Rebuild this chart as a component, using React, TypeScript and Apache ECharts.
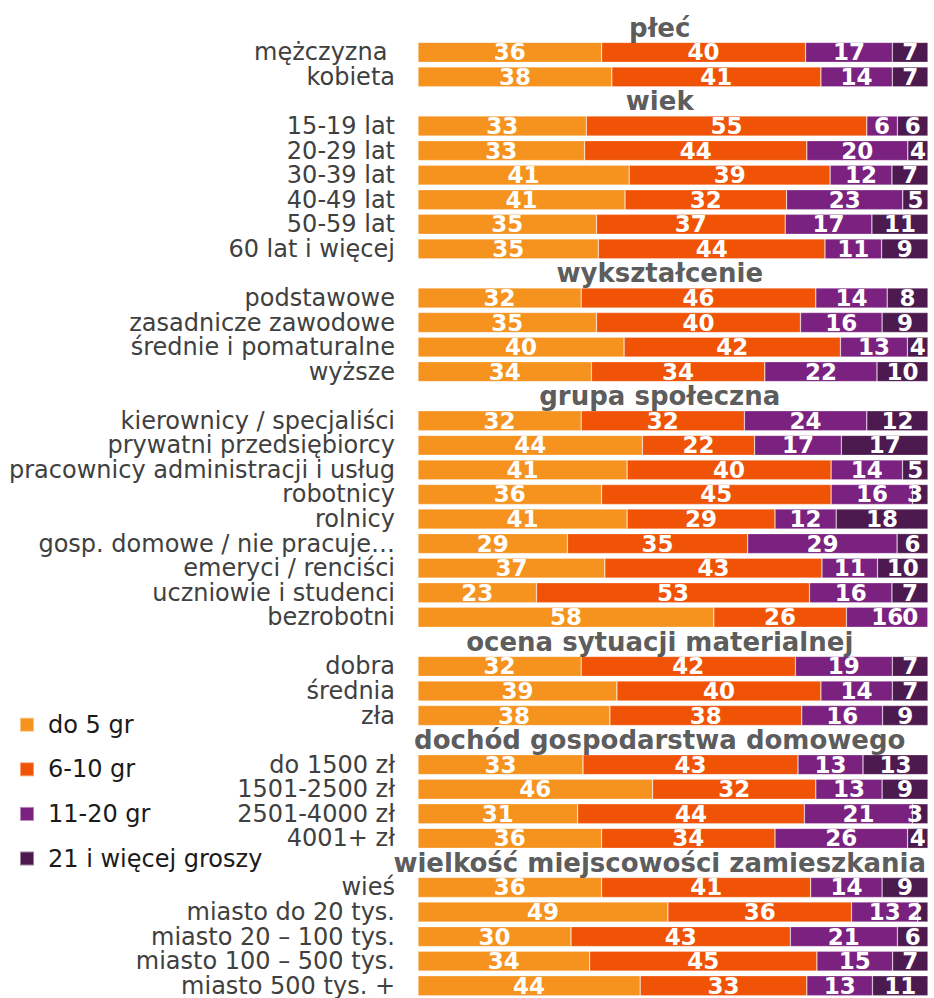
import React, { useEffect, useRef } from "react";
import * as echarts from "echarts";

const headers = [
  "płeć",
  "wiek",
  "wykształcenie",
  "grupa społeczna",
  "ocena sytuacji materialnej",
  "dochód gospodarstwa domowego",
  "wielkość miejscowości zamieszkania",
];
const groupSizes = [2, 6, 4, 9, 3, 4, 5];

const categories = [
  "mężczyzna ", "kobieta",
  "15-19 lat", "20-29 lat", "30-39 lat", "40-49 lat", "50-59 lat", "60 lat i więcej",
  "podstawowe", "zasadnicze zawodowe", "średnie i pomaturalne", "wyższe",
  "kierownicy / specjaliści", "prywatni przedsiębiorcy", "pracownicy administracji i usług",
  "robotnicy", "rolnicy", "gosp. domowe / nie pracuje…", "emeryci / renciści",
  "uczniowie i studenci", "bezrobotni",
  "dobra", "średnia", "zła",
  "do 1500 zł", "1501-2500 zł", "2501-4000 zł", "4001+ zł",
  "wieś", "miasto do 20 tys.", "miasto 20 – 100 tys.", "miasto 100 – 500 tys.", "miasto 500 tys. +",
];

const seriesNames = ["do 5 gr", "6-10 gr", "11-20 gr", "21 i więcej groszy"];

const do5 = [36, 38, 33, 33, 41, 41, 35, 35, 32, 35, 40, 34, 32, 44, 41, 36, 41, 29, 37, 23, 58, 32, 39, 38, 33, 46, 31, 36, 36, 49, 30, 34, 44];
const g6to10 = [40, 41, 55, 44, 39, 32, 37, 44, 46, 40, 42, 34, 32, 22, 40, 45, 29, 35, 43, 53, 26, 42, 40, 38, 43, 32, 44, 34, 41, 36, 43, 45, 33];
const g11to20 = [17, 14, 6, 20, 12, 23, 17, 11, 14, 16, 13, 22, 24, 17, 14, 16, 12, 29, 11, 16, 16, 19, 14, 16, 13, 13, 21, 26, 14, 13, 21, 15, 13];
const g21plus = [7, 7, 6, 4, 7, 5, 11, 9, 8, 9, 4, 10, 12, 17, 5, 3, 18, 6, 10, 7, 0, 7, 7, 9, 13, 9, 3, 4, 9, 2, 6, 7, 11];

const colors = ["#F6921E", "#F05206", "#7B2180", "#4D1A50"];

const HEADER_X = 47.4;
const FONT = "DejaVu Sans";

export default function App() {
  const ref = useRef<HTMLDivElement>(null);

  useEffect(() => {
    if (!ref.current) return;
    const chart = echarts.init(ref.current, undefined, { renderer: "svg" });

    const slotLabels: string[] = [];
    const rowSlot: number[] = [];
    const headerSlot: number[] = [];
    let r = 0;
    groupSizes.forEach((n) => {
      headerSlot.push(slotLabels.length);
      slotLabels.push("");
      for (let k = 0; k < n; k++) {
        rowSlot.push(slotLabels.length);
        slotLabels.push(categories[r]);
        r++;
      }
    });

    const valueArrays = [do5, g6to10, g11to20, g21plus];
    const sums = categories.map((_, i) => valueArrays.reduce((s, a) => s + a[i], 0));

    const barSeries = valueArrays.map((arr, si) => {
      const data: any[] = slotLabels.map(() => "-");
      arr.forEach((v, i) => {
        const item: any = { value: (v / sums[i]) * 100, raw: v };
        if (si === 3 && v <= 3) {
          item.label = { position: "insideRight", offset: v === 0 ? [-5, 0] : [0, 0] };
        }
        data[rowSlot[i]] = item;
      });
      return {
        name: seriesNames[si],
        type: "bar",
        stack: "total",
        barWidth: 20,
        itemStyle: { color: colors[si], borderColor: "rgba(255,255,255,0.45)", borderWidth: 0.6 },
        label: {
          show: true,
          position: "inside",
          color: "#ffffff",
          fontFamily: FONT,
          fontWeight: "bold",
          fontSize: 23,
          formatter: (p: any) => String(p.data.raw),
        },
        data,
      };
    });

    const headerSeries = {
      type: "scatter",
      symbolSize: 1,
      itemStyle: { color: "transparent" },
      silent: true,
      label: {
        show: true,
        position: "inside",
        color: "#303030",
        fontFamily: FONT,
        fontWeight: "bold",
        fontSize: 26,
        formatter: (p: any) => p.data.name,
      },
      data: headers.map((h, i) => ({ name: h, value: [HEADER_X, headerSlot[i]] })),
      z: 5,
    };

    chart.setOption({
      animation: false,
      grid: { left: 418, right: 6, top: 15.5, bottom: 0, containLabel: false },
      xAxis: { type: "value", min: 0, max: 100, show: false },
      yAxis: {
        type: "category",
        inverse: true,
        data: slotLabels,
        axisLine: { show: false },
        axisTick: { show: false },
        splitLine: { show: false },
        axisLabel: {
          interval: 0,
          margin: 23,
          color: "#404040",
          fontFamily: FONT,
          fontSize: 24,
        },
      },
      legend: {
        data: seriesNames,
        orient: "vertical",
        left: 19,
        top: 712.7,
        padding: 0,
        itemWidth: 14,
        itemHeight: 14,
        itemGap: 20.6,
        icon: "rect",
        textStyle: {
          fontFamily: FONT,
          fontSize: 24,
          lineHeight: 24,
          color: "#1a1a1a",
          padding: [0, 0, 0, 9],
        },
      },
      series: [...barSeries, headerSeries],
    });

    return () => chart.dispose();
  }, []);

  return (
    <div
      ref={ref}
      style={{ position: "fixed", left: 0, top: 0, width: 934, height: 998, background: "#ffffff" }}
    />
  );
}
